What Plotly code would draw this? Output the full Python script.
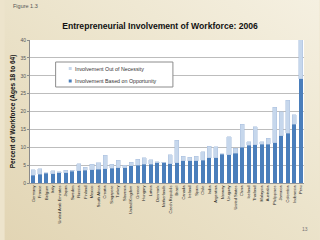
import base64
import plotly.graph_objects as go

countries = ["Germany", "France", "Belgium", "Italy", "United Arab Emirates", "Japan", "Sweden",
             "Russia", "Finland", "Mexico", "South Africa", "Croatia", "Singapore", "Turkey",
             "Slovenia", "United Kingdom", "Greece", "Hungary", "Latvia", "Denmark", "Netherlands",
             "Czech Republic", "Brazil", "Canada", "Ireland", "Spain", "Chile", "India",
             "Argentina", "Norway", "Uruguay", "United States", "China", "Iceland", "Thailand",
             "Malaysia", "Australia", "Philippines", "Jamaica", "Colombia", "Indonesia", "Peru"]

opportunity = [2.2, 2.4, 2.7, 2.6, 2.9, 2.9, 3.3, 3.4, 3.6, 3.7, 3.8, 4.0, 4.1, 4.2,
               4.2, 4.8, 5.0, 5.2, 5.2, 5.7, 5.7, 5.4, 5.6, 6.2, 6.2, 6.2, 6.4, 7.0,
               7.1, 8.0, 7.9, 8.3, 10.0, 10.5, 10.7, 10.9, 10.9, 11.3, 13.2, 13.9, 16.4, 29.1]

necessity = [1.5, 1.6, 0.2, 0.8, 0.2, 0.6, 0.3, 2.0, 0.8, 1.5, 1.8, 3.8, 1.1, 2.2,
             0.8, 1.0, 1.7, 1.8, 1.3, 0.2, 0.1, 2.5, 6.4, 1.3, 1.0, 1.3, 2.3, 3.3,
             3.1, 0.2, 5.1, 1.4, 6.5, 1.1, 5.1, 0.7, 1.6, 9.9, 6.7, 9.2, 2.7, 11.0]

y_ticks = [0, 5, 10, 15, 20, 25, 30, 35, 40]
legend_labels = ["Involvement Out of Necessity", "Involvement Based on Opportunity"]

DARK = "#4a7ebb"
LIGHT = "#c6d7ec"

W, H = 320, 240
ML, MR, MT, MB = 26, 16, 40, 57
PW, PH = W - ML - MR, H - MT - MB


def px(x):
    return (x - ML) / PW


def py(y):
    return (H - MB - y) / PH


# slide background gradient (decoration)
svg = (
    '<svg xmlns="http://www.w3.org/2000/svg" width="320" height="240">'
    '<defs><linearGradient id="g" x1="0" y1="1" x2="1" y2="0">'
    '<stop offset="0" stop-color="#e2d5b4"/>'
    '<stop offset="0.55" stop-color="#ece4cc"/>'
    '<stop offset="1" stop-color="#f5f0e1"/>'
    '</linearGradient></defs>'
    '<rect width="320" height="240" fill="url(#g)"/></svg>'
)
bg_src = "data:image/svg+xml;base64," + base64.b64encode(svg.encode()).decode()

fig = go.Figure()
fig.add_trace(go.Bar(x=countries, y=opportunity, name=legend_labels[1],
                     marker=dict(color=DARK, line=dict(width=0)), showlegend=False))
fig.add_trace(go.Bar(x=countries, y=necessity, name=legend_labels[0],
                     marker=dict(color=LIGHT, line=dict(color="#a9c0dd", width=0.5)),
                     showlegend=False))

shapes = [
    # white plot area over the background image
    dict(type="rect", xref="paper", yref="paper", x0=0, x1=1, y0=0, y1=1,
         fillcolor="#ffffff", line=dict(width=0), layer="below"),
    # legend box
    dict(type="rect", xref="paper", yref="paper", x0=px(52), x1=px(171), y0=py(87), y1=py(62),
         fillcolor="#ffffff", line=dict(color="#8c8c8c", width=1), layer="above"),
]
annotations = [
    dict(text="Figure 1.3", x=px(7), y=py(6), xref="paper", yref="paper",
         xanchor="left", yanchor="middle", showarrow=False,
         font=dict(size=5.5, color="#555555")),
    dict(text="13", x=px(305), y=py(229), xref="paper", yref="paper",
         xanchor="center", yanchor="middle", showarrow=False,
         font=dict(size=5, color="#777777")),
]
for label, color, yc in zip(legend_labels, [LIGHT, DARK], [68.5, 81]):
    shapes.append(dict(type="rect", xref="paper", yref="paper",
                       x0=px(65.3), x1=px(68.3), y0=py(yc + 1.5), y1=py(yc - 1.5),
                       fillcolor=color, line=dict(width=0), layer="above"))
    annotations.append(dict(text=label, x=px(70), y=py(yc), xref="paper", yref="paper",
                            xanchor="left", yanchor="middle", showarrow=False,
                            font=dict(size=5.3, color="#333333")))

fig.update_layout(
    width=W, height=H,
    margin=dict(l=ML, r=MR, t=MT, b=MB),
    barmode="stack", bargap=0.38, showlegend=False,
    paper_bgcolor="#ede4cc", plot_bgcolor="#ffffff",
    font=dict(family="Liberation Sans, Arial, sans-serif", color="#333333"),
    title=dict(text="<b>Entrepreneurial Involvement of Workforce: 2006</b>",
               x=0.5, xanchor="center", y=1 - 26 / 240, yanchor="middle", yref="container",
               font=dict(size=8.6, color="#111111")),
    xaxis=dict(type="category", tickangle=-90, tickfont=dict(size=4, color="#222222"),
               showgrid=False, ticks="", showline=True, linecolor="#9a9a9a", linewidth=1,
               fixedrange=True),
    yaxis=dict(range=[0, 40], tickvals=y_ticks, tickfont=dict(size=5, color="#555555"),
               showgrid=True, gridcolor="#bdbdbd", gridwidth=1, zeroline=False,
               showline=True, linecolor="#8a8a8a", linewidth=1, ticks="outside", ticklen=2,
               tickcolor="#8a8a8a",
               title=dict(text="<b>Percent of Workforce (Ages 18 to 64)</b>",
                          font=dict(size=6.5, color="#111111"), standoff=4)),
    images=[dict(source=bg_src, xref="paper", yref="paper", x=px(0), y=py(0),
                 sizex=W / PW, sizey=H / PH, xanchor="left", yanchor="top",
                 sizing="stretch", layer="below")],
    shapes=shapes,
    annotations=annotations,
)

fig.write_html("out.html")
